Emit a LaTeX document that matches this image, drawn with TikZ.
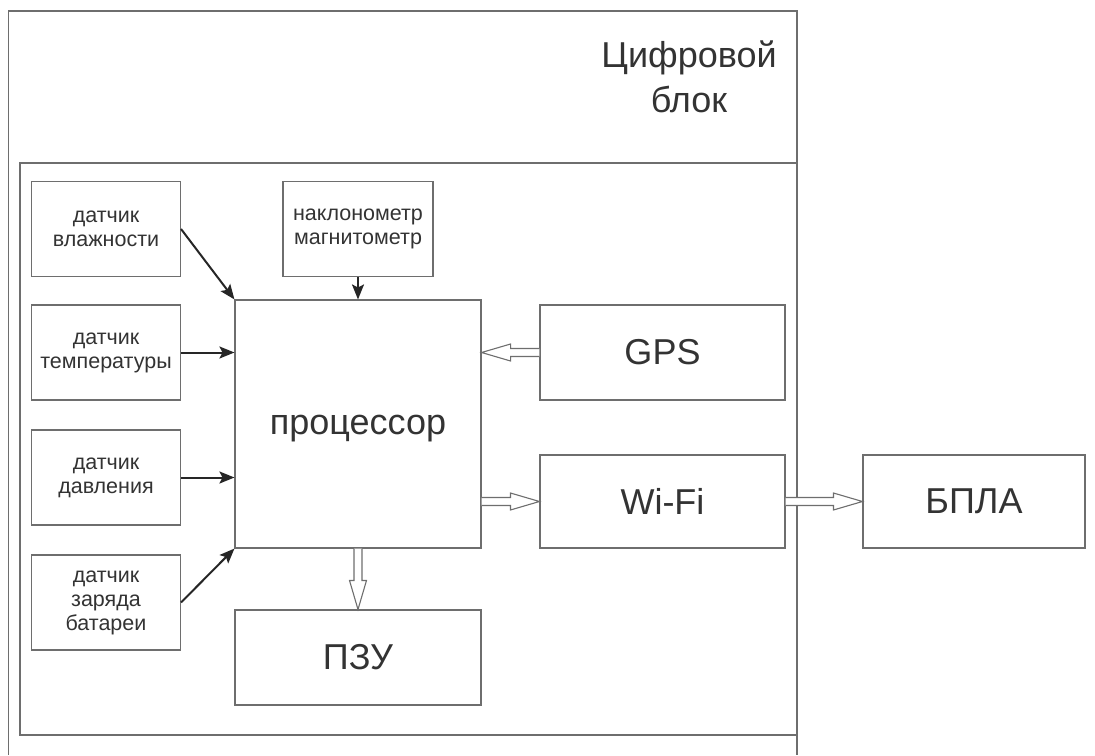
\documentclass[tikz,border=0pt]{standalone}
\usepackage{fontspec}
\setmainfont{Liberation Sans}
\usetikzlibrary{arrows.meta,calc}
\definecolor{frameg}{HTML}{6E6E6E}
\definecolor{textg}{HTML}{333333}
\tikzset{
  box/.style={draw=frameg, line width=1.1pt, inner sep=0pt, align=center, text=textg},
  small/.style={box, font=\fontsize{21.5}{24}\selectfont},
  big/.style={box, font=\fontsize{36}{45}\selectfont},
  feed/.style={draw=black!85, line width=2pt, -{Stealth[length=15pt, width=12pt, inset=3pt]}},
  hollow/.style={draw=frameg, line width=1.1pt, fill=white, line join=miter}
}
\newcommand{\hollowarrow}[2]{%
  \path (#1) coordinate (hs) (#2) coordinate (he) ($(he)!29pt!(hs)$) coordinate (hh);
  \draw[hollow] ($(hs)!4pt!90:(he)$) -- ($(hh)!4pt!90:(he)$) -- ($(hh)!8.5pt!90:(he)$) -- (he)
    -- ($(hh)!8.5pt!-90:(he)$) -- ($(hh)!4pt!-90:(he)$) -- ($(hs)!4pt!-90:(he)$);
}
\begin{document}
\begin{tikzpicture}[x=1pt, y=-1pt]
\useasboundingbox (0,0) rectangle (1095,755);

\draw[frameg, line width=1.1pt] (8.5,755) -- (8.5,11) -- (797,11) -- (797,755);
\draw[frameg, line width=1.1pt] (20,163) rectangle (797,735);
\node[text=textg, font=\fontsize{36}{45}\selectfont, align=center, anchor=base] (title) at (689,112) {Цифровой\\блок};

\node[small, minimum width=149pt, minimum height=95pt] (vl) at (106,229) {датчик\\влажности};
\node[small, minimum width=149pt, minimum height=95pt] (temp) at (106,352.5) {датчик\\температуры};
\node[small, minimum width=149pt, minimum height=95pt] (davl) at (106,477.5) {датчик\\давления};
\node[small, minimum width=149pt, minimum height=95pt] (zar) at (106,602.5) {датчик\\заряда\\батареи};
\node[small, minimum width=150pt, minimum height=95pt] (nakl) at (358,229) {наклонометр\\магнитометр};

\node[big, minimum width=246pt, minimum height=248pt, text height=20pt, text depth=0pt] (proc) at (358,424) {процессор};
\node[big, minimum width=246pt, minimum height=95pt] (pzu) at (358,657.5) {ПЗУ};
\node[big, minimum width=245pt, minimum height=95pt] (gps) at (662.5,352.5) {GPS};
\node[big, minimum width=245pt, minimum height=93pt] (wifi) at (662.5,501.5) {Wi-Fi};
\node[big, minimum width=222pt, minimum height=93pt] (bpla) at (974,501.5) {БПЛА};

\draw[feed] (vl.east) -- (proc.north west);
\draw[feed] (temp.east) -- (temp.east -| proc.west);
\draw[feed] (davl.east) -- (davl.east -| proc.west);
\draw[feed] (zar.east) -- (proc.south west);
\draw[feed] (nakl.south) -- (proc.north);

\hollowarrow{gps.west}{gps.west -| proc.east}
\hollowarrow{proc.east |- wifi.west}{wifi.west}
\hollowarrow{proc.south}{pzu.north}
\hollowarrow{wifi.east}{bpla.west}

\end{tikzpicture}
\end{document}
